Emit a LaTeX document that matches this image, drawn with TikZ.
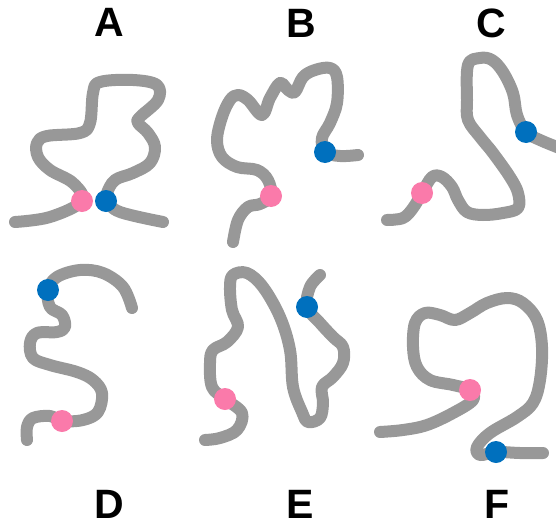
\documentclass[tikz,border=0pt]{standalone}
\usepackage{fontspec}
\setmainfont{Liberation Sans}
\definecolor{strand}{RGB}{152,152,152}
\definecolor{pinkdot}{RGB}{250,122,170}
\definecolor{bluedot}{RGB}{0,112,190}
\begin{document}
\begin{tikzpicture}[x=1pt,y=-1pt,
  chain/.style={draw=strand,line width=12pt,line cap=round,line join=round},
  pinkbead/.style={circle,fill=pinkdot,minimum size=22pt,inner sep=0pt},
  bluebead/.style={circle,fill=bluedot,minimum size=22pt,inner sep=0pt},
  tag/.style={font=\bfseries\fontsize{41}{41}\selectfont,inner sep=0pt}]
\useasboundingbox (0,0) rectangle (556,527);

% panel labels
\node[tag] (labA) at (109,22) {A};
\node[tag] (labB) at (301,23) {B};
\node[tag] (labC) at (491,23) {C};
\node[tag] (labD) at (109,504) {D};
\node[tag] (labE) at (300,504) {E};
\node[tag] (labF) at (497,504) {F};

\begin{scope}
\clip (0,0) rectangle (556,527);

% A
\draw[chain] plot[smooth,tension=0.6] coordinates {
  (15,222) (50,217) (82,201) (73,183) (50,170) (38,157) (37,143) (47,136)
  (80,133) (90,123) (93,93) (100,82) (133,80) (157,85) (158,100) (140,117)
  (138,123) (148,133) (155,147) (150,163) (133,173) (115,180) (107,193)
  (107,201) (120,212) (163,222)};
\node[pinkbead] (pA) at (82,201) {};
\node[bluebead] (bA) at (106,201) {};

% B
\draw[chain] plot[smooth,tension=0.6] coordinates {
  (233,242) (238,220) (248,207) (260,204) (271,196) (268,180) (257,170)
  (237,167) (222,157) (217,140) (222,117) (230,100) (238,95) (248,100)
  (262,115) (270,98) (280,83) (288,90) (295,92) (303,77) (315,70) (330,68)
  (337,77) (337,103) (330,123) (322,138) (325,152) (340,156) (358,155)};
\node[pinkbead] (pB) at (271,196) {};
\node[bluebead] (bB) at (325,152) {};

% C
\draw[chain] plot[smooth,tension=0.6] coordinates {
  (387,220) (403,218) (413,208) (422,193) (432,177) (442,177) (452,187)
  (458,200) (467,212) (483,215) (503,213) (518,208) (518,193) (510,177)
  (493,153) (480,137) (468,120) (467,100) (468,65) (480,58) (492,60)
  (503,72) (513,93) (517,115) (526,132) (540,140) (562,149)};
\node[pinkbead] (pC) at (422,193) {};
\node[bluebead] (bC) at (526,132) {};

% D
\draw[chain] plot[smooth,tension=0.6] coordinates {
  (27,440) (27,427) (33,418) (50,416) (62,421) (83,420) (98,412) (102,393)
  (93,380) (77,372) (50,365) (33,358) (30,343) (37,333) (57,332) (65,327)
  (62,315) (50,307) (48,290) (57,277) (80,270) (103,273) (123,287) (132,308)};
\node[pinkbead] (pD) at (62,421) {};
\node[bluebead] (bD) at (48,290) {};

% E
\draw[chain] plot[smooth,tension=0.6] coordinates {
  (205,440) (220,438) (237,430) (242,413) (225,399) (212,387) (210,363)
  (213,350) (227,342) (238,327) (232,310) (230,287) (233,275) (247,273)
  (263,287) (280,317) (290,350) (293,387) (302,412) (308,422) (320,418)
  (323,403) (322,387) (333,377) (343,363) (343,347) (333,337) (320,323)
  (307,307) (310,287) (320,275)};
\node[pinkbead] (pE) at (225,399) {};
\node[bluebead] (bE) at (307,307) {};

% F
\draw[chain] plot[smooth,tension=0.6] coordinates {
  (380,432) (403,430) (427,425) (453,413) (473,400) (470,390) (453,385)
  (430,380) (417,367) (413,347) (415,323) (425,313) (440,315) (455,320)
  (470,313) (487,303) (507,298) (523,303) (537,320) (542,347) (540,380)
  (533,403) (517,417) (490,433) (477,447) (480,455) (496,452) (520,453)
  (543,453)};
\node[pinkbead] (pF) at (470,390) {};
\node[bluebead] (bF) at (496,452) {};
\end{scope}
\end{tikzpicture}
\end{document}
